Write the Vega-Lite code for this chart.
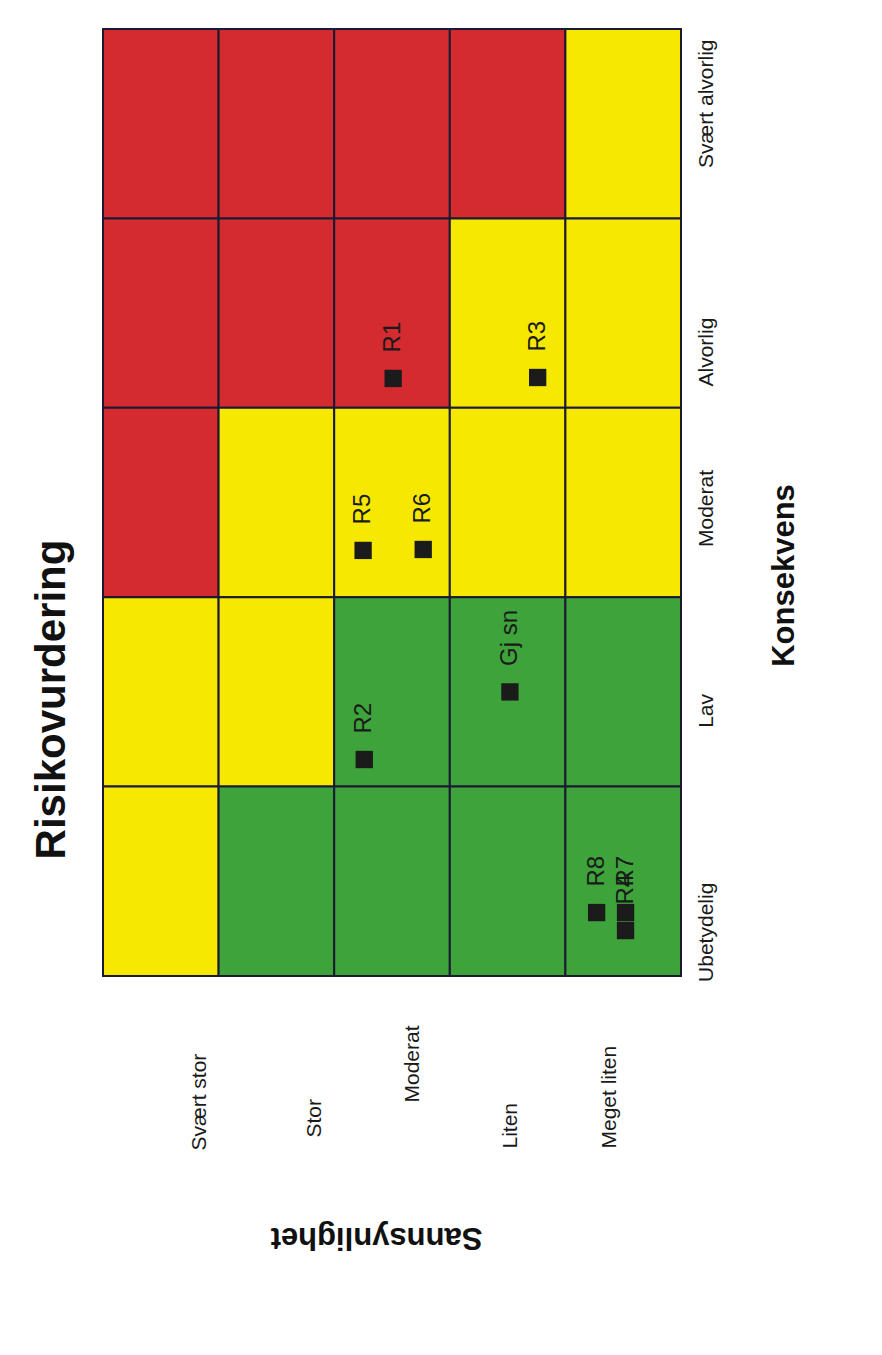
{
  "$schema": "https://vega.github.io/schema/vega-lite/v6.json",
  "width": 578,
  "height": 947,
  "autosize": {"type": "none"},
  "padding": {"left": 103, "top": 29, "right": 201, "bottom": 379},
  "background": "#ffffff",
  "config": {"view": {"stroke": null}, "font": "Liberation Sans"},
  "title": {
    "text": "Risikovurdering",
    "orient": "left",
    "anchor": "middle",
    "fontSize": 42,
    "fontWeight": "bold",
    "font": "Liberation Sans",
    "color": "#111111",
    "offset": 28,
    "dx": -197
  },
  "datasets": {
    "celler": [
      {"sannsynlighet": "Svært stor", "konsekvens": "Svært alvorlig", "risiko": "Høy"},
      {"sannsynlighet": "Svært stor", "konsekvens": "Alvorlig", "risiko": "Høy"},
      {"sannsynlighet": "Svært stor", "konsekvens": "Moderat", "risiko": "Høy"},
      {"sannsynlighet": "Svært stor", "konsekvens": "Lav", "risiko": "Middels"},
      {"sannsynlighet": "Svært stor", "konsekvens": "Ubetydelig", "risiko": "Middels"},
      {"sannsynlighet": "Stor", "konsekvens": "Svært alvorlig", "risiko": "Høy"},
      {"sannsynlighet": "Stor", "konsekvens": "Alvorlig", "risiko": "Høy"},
      {"sannsynlighet": "Stor", "konsekvens": "Moderat", "risiko": "Middels"},
      {"sannsynlighet": "Stor", "konsekvens": "Lav", "risiko": "Middels"},
      {"sannsynlighet": "Stor", "konsekvens": "Ubetydelig", "risiko": "Lav"},
      {"sannsynlighet": "Moderat", "konsekvens": "Svært alvorlig", "risiko": "Høy"},
      {"sannsynlighet": "Moderat", "konsekvens": "Alvorlig", "risiko": "Høy"},
      {"sannsynlighet": "Moderat", "konsekvens": "Moderat", "risiko": "Middels"},
      {"sannsynlighet": "Moderat", "konsekvens": "Lav", "risiko": "Lav"},
      {"sannsynlighet": "Moderat", "konsekvens": "Ubetydelig", "risiko": "Lav"},
      {"sannsynlighet": "Liten", "konsekvens": "Svært alvorlig", "risiko": "Høy"},
      {"sannsynlighet": "Liten", "konsekvens": "Alvorlig", "risiko": "Middels"},
      {"sannsynlighet": "Liten", "konsekvens": "Moderat", "risiko": "Middels"},
      {"sannsynlighet": "Liten", "konsekvens": "Lav", "risiko": "Lav"},
      {"sannsynlighet": "Liten", "konsekvens": "Ubetydelig", "risiko": "Lav"},
      {"sannsynlighet": "Meget liten", "konsekvens": "Svært alvorlig", "risiko": "Middels"},
      {"sannsynlighet": "Meget liten", "konsekvens": "Alvorlig", "risiko": "Middels"},
      {"sannsynlighet": "Meget liten", "konsekvens": "Moderat", "risiko": "Middels"},
      {"sannsynlighet": "Meget liten", "konsekvens": "Lav", "risiko": "Lav"},
      {"sannsynlighet": "Meget liten", "konsekvens": "Ubetydelig", "risiko": "Lav"}
    ],
    "risikoer": [
      {"id": "R1", "sannsynlighet": 2.49, "konsekvens": 3.155},
      {"id": "R3", "sannsynlighet": 1.24, "konsekvens": 3.16},
      {"id": "R5", "sannsynlighet": 2.75, "konsekvens": 2.247},
      {"id": "R6", "sannsynlighet": 2.23, "konsekvens": 2.252},
      {"id": "Gj sn", "sannsynlighet": 1.48, "konsekvens": 1.5},
      {"id": "R2", "sannsynlighet": 2.74, "konsekvens": 1.143},
      {"id": "R8", "sannsynlighet": 0.73, "konsekvens": 0.335},
      {"id": "R4", "sannsynlighet": 0.48, "konsekvens": 0.24},
      {"id": "R7", "sannsynlighet": 0.48, "konsekvens": 0.335}
    ]
  },
  "layer": [
    {
      "data": {"name": "celler"},
      "mark": {"type": "rect", "stroke": "#1a1a33", "strokeWidth": 2},
      "encoding": {
        "x": {
          "field": "sannsynlighet",
          "type": "nominal",
          "sort": ["Svært stor", "Stor", "Moderat", "Liten", "Meget liten"],
          "scale": {"paddingInner": 0, "paddingOuter": 0},
          "axis": {
            "orient": "bottom",
            "title": "Sannsynlighet",
            "domain": false,
            "ticks": false,
            "tickSize": 0,
            "grid": false,
            "labelAngle": -90,
            "labelAlign": "left",
            "labelBaseline": "middle",
            "labelFont": "Liberation Sans",
            "labelFontSize": 21,
            "labelColor": "#1a1a1a",
            "labelPadding": {
              "condition": [
                {"test": "datum.value === 'Svært stor'", "value": 174},
                {"test": "datum.value === 'Stor'", "value": 161},
                {"test": "datum.value === 'Moderat'", "value": 126}
              ],
              "value": 172
            },
            "labelOffset": {
              "condition": [
                {"test": "datum.value === 'Svært stor'", "value": 39},
                {"test": "datum.value === 'Stor'", "value": 39},
                {"test": "datum.value === 'Moderat'", "value": 21},
                {"test": "datum.value === 'Liten'", "value": 3}
              ],
              "value": -13
            },
            "titleFont": "Liberation Sans",
            "titleFontSize": 31,
            "titleFontWeight": "bold",
            "titleColor": "#111111",
            "titleAngle": 180,
            "titleAlign": "center",
            "titleBaseline": "alphabetic",
            "titleX": 273,
            "titleY": 251
          }
        },
        "y": {
          "field": "konsekvens",
          "type": "nominal",
          "sort": ["Svært alvorlig", "Alvorlig", "Moderat", "Lav", "Ubetydelig"],
          "scale": {"paddingInner": 0, "paddingOuter": 0},
          "axis": {
            "orient": "right",
            "title": "Konsekvens",
            "domain": false,
            "ticks": false,
            "tickSize": 0,
            "grid": false,
            "labelAngle": -90,
            "labelAlign": "center",
            "labelBaseline": "middle",
            "labelFont": "Liberation Sans",
            "labelFontSize": 21,
            "labelColor": "#1a1a1a",
            "labelPadding": 25,
            "labelOffset": {
              "condition": [
                {"test": "datum.value === 'Svært alvorlig'", "value": -20},
                {"test": "datum.value === 'Alvorlig'", "value": 39},
                {"test": "datum.value === 'Moderat'", "value": 6},
                {"test": "datum.value === 'Lav'", "value": 19}
              ],
              "value": 51
            },
            "titleFont": "Liberation Sans",
            "titleFontSize": 31,
            "titleFontWeight": "bold",
            "titleColor": "#111111",
            "titleAngle": -90,
            "titleAlign": "center",
            "titleBaseline": "alphabetic",
            "titleX": 112,
            "titleY": 546
          }
        },
        "color": {
          "field": "risiko",
          "type": "nominal",
          "scale": {"domain": ["Lav", "Middels", "Høy"], "range": ["#3da33a", "#f6e800", "#d42b30"]},
          "legend": null
        }
      }
    },
    {
      "data": {"name": "risikoer"},
      "mark": {"type": "point", "shape": "square", "filled": true, "size": 300, "color": "#1b1b1b", "opacity": 1},
      "encoding": {
        "x": {"field": "sannsynlighet", "type": "quantitative", "scale": {"domain": [0, 5], "reverse": true, "nice": false, "zero": false}, "axis": null},
        "y": {"field": "konsekvens", "type": "quantitative", "scale": {"domain": [0, 5], "nice": false, "zero": false}, "axis": null}
      }
    },
    {
      "data": {"name": "risikoer"},
      "mark": {"type": "text", "angle": -90, "align": "left", "baseline": "middle", "dx": 26, "fontSize": 24, "font": "Liberation Sans", "color": "#1a1a1a"},
      "encoding": {
        "x": {"field": "sannsynlighet", "type": "quantitative", "scale": {"domain": [0, 5], "reverse": true, "nice": false, "zero": false}, "axis": null},
        "y": {"field": "konsekvens", "type": "quantitative", "scale": {"domain": [0, 5], "nice": false, "zero": false}, "axis": null},
        "text": {"field": "id"}
      }
    }
  ],
  "resolve": {"scale": {"x": "independent", "y": "independent"}}
}
